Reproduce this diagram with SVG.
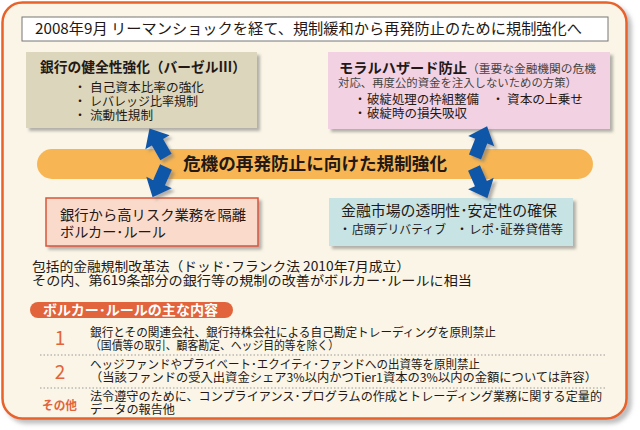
<svg xmlns="http://www.w3.org/2000/svg" xmlns:xlink="http://www.w3.org/1999/xlink" width="640" height="430" viewBox="0 0 640 430">
<defs>
<style>
text{font-family:"Noto Sans CJK JP","Noto Sans CJK SC",sans-serif;fill:#231815;}
.h{font-size:14px;font-weight:bold;}
.b{font-size:12.5px;}
.s{font-size:12px;}
.p{font-size:13px;}
.bl{font-size:12px;text-anchor:middle;}
.num{font-size:19px;fill:#E2643C;}
.dot{stroke:#9a9a9a;stroke-width:1;stroke-dasharray:1.5 2;}
.arr{fill:#0F56A8;}
</style>
<filter id="sh" x="-10%" y="-10%" width="130%" height="140%">
<feDropShadow dx="3" dy="3" stdDeviation="1.8" flood-color="#777" flood-opacity="0.55"/>
</filter>
<filter id="osh" x="-5%" y="-5%" width="110%" height="110%">
<feDropShadow dx="4" dy="4" stdDeviation="2" flood-color="#888" flood-opacity="0.55"/>
</filter>
<path id="arrUp" d="M-6.5,0 V-17 H-14 L0,-33 L14,-17 H6.5 V0 Z"/>
</defs>

<g id="frame">
<rect x="2.5" y="2.5" width="624" height="416" rx="20" fill="#FAF5E6" stroke="#E9622B" stroke-width="2.5" filter="url(#osh)"/>
</g>

<g id="title">
<rect x="22" y="17" width="586" height="24" fill="#FFFFFF" stroke="#777" stroke-width="1"/>
<text x="35" y="34" style="font-size:15px" textLength="547" lengthAdjust="spacingAndGlyphs">2008年9月 リーマンショックを経て、規制緩和から再発防止のために規制強化へ</text>
</g>

<g id="node-basel">
<rect x="26" y="52" width="231" height="76" fill="#DCD6BC" filter="url(#sh)"/>
<text x="40" y="72" class="h" textLength="206" lengthAdjust="spacingAndGlyphs">銀行の健全性強化（バーゼルⅢ）</text>
<text x="80" y="92" class="bl">・</text>
<text x="90" y="92" class="b" textLength="114" lengthAdjust="spacingAndGlyphs">自己資本比率の強化</text>
<text x="80" y="106" class="bl">・</text>
<text x="90" y="106" class="b" textLength="108" lengthAdjust="spacingAndGlyphs">レバレッジ比率規制</text>
<text x="80" y="120" class="bl">・</text>
<text x="90" y="120" class="b" textLength="63" lengthAdjust="spacingAndGlyphs">流動性規制</text>
</g>

<g id="node-moral">
<rect x="328" y="52" width="282" height="77" fill="#F2D2E2" filter="url(#sh)"/>
<text x="339" y="73" class="h" textLength="128" lengthAdjust="spacingAndGlyphs">モラルハザード防止</text>
<text x="467" y="73" style="font-size:11.7px;fill:#444" textLength="129" lengthAdjust="spacingAndGlyphs">（重要な金融機関の危機</text>
<text x="338" y="87" style="font-size:11.5px;fill:#444" textLength="239" lengthAdjust="spacingAndGlyphs">対応、再度公的資金を注入しないための方策）</text>
<text x="360" y="104" class="bl">・</text>
<text x="367" y="104" class="b" textLength="112" lengthAdjust="spacingAndGlyphs">破綻処理の枠組整備</text>
<text x="498" y="104" class="bl">・</text>
<text x="507" y="104" class="b" textLength="76" lengthAdjust="spacingAndGlyphs">資本の上乗せ</text>
<text x="360" y="118" class="bl">・</text>
<text x="367" y="118" class="b" textLength="100" lengthAdjust="spacingAndGlyphs">破綻時の損失吸収</text>
</g>

<g id="node-band">
<rect x="37" y="149" width="556" height="30" rx="15" fill="#F7B653"/>
<text x="183" y="170" style="font-size:17.5px;font-weight:bold" textLength="264" lengthAdjust="spacingAndGlyphs">危機の再発防止に向けた規制強化</text>
</g>

<g id="node-volcker">
<rect x="46" y="198" width="212" height="48" fill="#FADBCB" stroke="#D9553A" stroke-width="1.5" filter="url(#sh)"/>
<text x="60" y="220" style="font-size:14px" textLength="186" lengthAdjust="spacingAndGlyphs">銀行から高リスク業務を隔離</text>
<text x="60" y="237" style="font-size:14px" textLength="106" lengthAdjust="spacingAndGlyphs">ボルカー･ルール</text>
</g>

<g id="node-market">
<rect x="329" y="198" width="244" height="48" fill="#C8E3E4" filter="url(#sh)"/>
<text x="341" y="216" style="font-size:14.8px" textLength="216" lengthAdjust="spacingAndGlyphs">金融市場の透明性･安定性の確保</text>
<text x="345" y="234" class="bl">・</text>
<text x="352" y="234" class="s" textLength="94" lengthAdjust="spacingAndGlyphs">店頭デリバティブ</text>
<text x="462" y="234" class="bl">・</text>
<text x="469" y="234" class="s" textLength="94" lengthAdjust="spacingAndGlyphs">レポ･証券貸借等</text>
</g>

<g id="connectors" filter="url(#sh)">
<use xlink:href="#arrUp" class="arr" transform="translate(166,157) rotate(-30)"/>
<use xlink:href="#arrUp" class="arr" transform="translate(166,167) rotate(204)"/>
<use xlink:href="#arrUp" class="arr" transform="translate(475,157) rotate(21.5)"/>
<use xlink:href="#arrUp" class="arr" transform="translate(474,168) rotate(156)"/>
</g>

<g id="dodd-frank">
<text x="32" y="271" class="p" textLength="378" lengthAdjust="spacingAndGlyphs">包括的金融規制改革法（ドッド･フランク法 2010年7月成立）</text>
<text x="32" y="285" class="p" textLength="440" lengthAdjust="spacingAndGlyphs">その内、第619条部分の銀行等の規制の改善がボルカー･ルールに相当</text>
</g>

<g id="contents">
<rect x="30" y="302" width="203" height="16" rx="8" fill="#E2643C"/>
<text x="43" y="315" style="font-size:13.4px;font-weight:bold;fill:#FFFFFF" textLength="175" lengthAdjust="spacingAndGlyphs">ボルカー･ルールの主な内容</text>

<g id="row1">
<text x="60" y="345" class="num" text-anchor="middle">1</text>
<text x="90" y="337" class="s" textLength="406" lengthAdjust="spacingAndGlyphs">銀行とその関連会社、銀行持株会社による自己勘定トレーディングを原則禁止</text>
<text x="90" y="350" class="s" textLength="249" lengthAdjust="spacingAndGlyphs">（国債等の取引、顧客勘定、ヘッジ目的等を除く）</text>
</g>
<line x1="40" y1="355" x2="607" y2="355" class="dot"/>
<g id="row2">
<text x="60" y="379" class="num" text-anchor="middle">2</text>
<text x="90" y="369" class="s" textLength="390" lengthAdjust="spacingAndGlyphs">ヘッジファンドやプライベート･エクイティ･ファンドへの出資等を原則禁止</text>
<text x="90" y="382" class="s" textLength="507" lengthAdjust="spacingAndGlyphs">（当該ファンドの受入出資金シェア3%以内かつTier1資本の3%以内の金額については許容）</text>
</g>
<line x1="40" y1="388" x2="607" y2="388" class="dot"/>
<g id="row3">
<text x="42" y="410" style="font-size:12px;font-weight:bold;fill:#E2643C" textLength="35" lengthAdjust="spacingAndGlyphs">その他</text>
<text x="90" y="401" class="s" textLength="512" lengthAdjust="spacingAndGlyphs">法令遵守のために、コンプライアンス･プログラムの作成とトレーディング業務に関する定量的</text>
<text x="90" y="414" class="s" textLength="85" lengthAdjust="spacingAndGlyphs">データの報告他</text>
</g>
</g>
</svg>
